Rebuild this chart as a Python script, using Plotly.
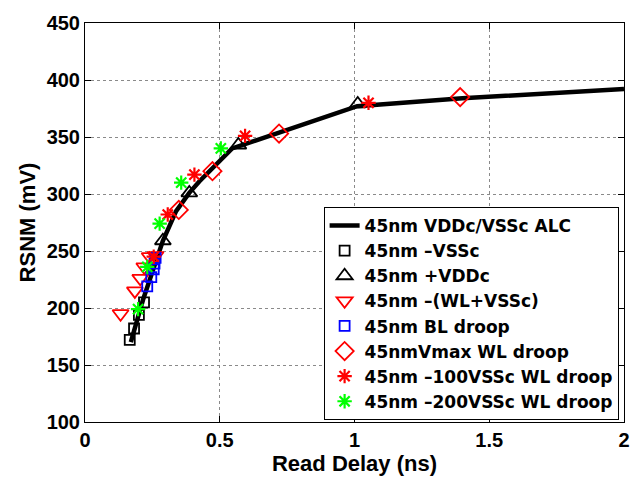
import plotly.graph_objects as go

# ALC trade-off curve (Read Delay in ns, RSNM in mV)
alc_delay = [0.17, 0.19, 0.215, 0.252, 0.289, 0.338, 0.387, 0.424, 0.47, 0.546, 1.01, 1.4, 2.0]
alc_rsnm = [170, 188, 207, 233, 259, 285, 301, 311, 322, 340, 377, 384, 392]

vssc_delay = [0.166, 0.182, 0.200, 0.219]
vssc_rsnm = [172, 182, 194, 205]

vddc_delay = [0.289, 0.387, 0.569, 1.012]
vddc_rsnm = [259, 301, 343, 379]

wlvssc_delay = [0.132, 0.185, 0.205, 0.22, 0.24, 0.262]
wlvssc_rsnm = [195, 215, 226, 236, 245, 246]

bl_delay = [0.231, 0.246, 0.255, 0.258, 0.262]
bl_rsnm = [219, 227, 234, 239, 244]

vmax_delay = [0.348, 0.473, 0.72, 1.392]
vmax_rsnm = [286, 320, 353, 385]

wl100_delay = [0.255, 0.307, 0.406, 0.594, 1.052]
wl100_rsnm = [245, 282, 317, 351, 380]

wl200_delay = [0.197, 0.231, 0.277, 0.357, 0.504]
wl200_rsnm = [199, 236, 274, 310, 340]

x_ticks = [0, 0.5, 1, 1.5, 2]
x_tick_text = ["0", "0.5", "1", "1.5", "2"]
y_ticks = [100, 150, 200, 250, 300, 350, 400, 450]

FONT = "Liberation Sans, Arial, Helvetica, sans-serif"
LEGEND_FONT = "DejaVu Sans, Liberation Sans, sans-serif"

fig = go.Figure()
fig.add_trace(go.Scatter(x=alc_delay, y=alc_rsnm, mode="lines",
                         line=dict(color="black", width=4.5),
                         name="45nm VDDc/VSSc ALC"))


def markers(x, y, name, symbol, color, size, lw=1.8):
    fig.add_trace(go.Scatter(
        x=x, y=y, mode="markers", name=name,
        marker=dict(symbol=symbol, size=size, color=color,
                    line=dict(color=color, width=lw))))


markers(vssc_delay, vssc_rsnm, "45nm \u2013VSSc", "square-open", "black", 10)
markers(vddc_delay, vddc_rsnm, "45nm +VDDc", "triangle-up-open", "black", 14)
markers(wlvssc_delay, wlvssc_rsnm, "45nm \u2013(WL+VSSc)", "triangle-down-open", "#ff0000", 14)
markers(bl_delay, bl_rsnm, "45nm BL droop", "square-open", "#0000ff", 10)
markers(vmax_delay, vmax_rsnm, "45nmVmax WL droop", "diamond-open", "#ff0000", 14)
markers(wl100_delay, wl100_rsnm, "45nm \u2013100VSSc WL droop", "asterisk-open", "#ff0000", 12, 2.2)
markers(wl200_delay, wl200_rsnm, "45nm \u2013200VSSc WL droop", "asterisk-open", "#00ff00", 12, 2.2)

axis_common = dict(
    showline=True, linecolor="black", linewidth=1, mirror="ticks",
    ticks="inside", ticklen=6, tickcolor="black",
    showgrid=True, gridcolor="#8a8a8a", griddash="dot", gridwidth=1,
    zeroline=False,
    tickfont=dict(family=FONT, size=20, color="black", weight="bold"),
)

fig.update_xaxes(range=[0, 2], tickvals=x_ticks, ticktext=x_tick_text,
                 title=dict(text="Read Delay (ns)", standoff=0,
                            font=dict(family=FONT, size=22, color="black", weight="bold")),
                 **axis_common)
fig.update_yaxes(range=[100, 450], tickvals=y_ticks,
                 title=dict(text="RSNM (mV)", standoff=4,
                            font=dict(family=FONT, size=22, color="black", weight="bold")),
                 **axis_common)

fig.update_layout(
    width=642, height=478,
    margin=dict(l=85, r=15, t=17, b=53),
    plot_bgcolor="white", paper_bgcolor="white",
    legend=dict(x=0.99, y=0.005, xanchor="right", yanchor="bottom",
                bgcolor="white", bordercolor="black", borderwidth=1,
                font=dict(family=LEGEND_FONT, size=17, color="black", weight="bold"),
                itemwidth=30, tracegroupgap=0),
)

fig.write_html("out.html")
